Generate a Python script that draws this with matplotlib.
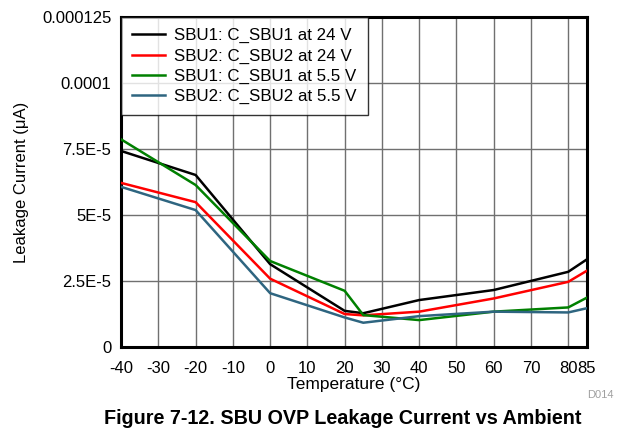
import matplotlib
matplotlib.use("Agg")
import matplotlib.pyplot as plt

temps = [-40, -20, 0, 20, 25, 40, 60, 80, 85]
sbu1_24v = [7.43e-5, 6.52e-5, 3.14e-5, 1.37e-5, 1.28e-5, 1.78e-5, 2.16e-5, 2.85e-5, 3.32e-5]
sbu2_24v = [6.22e-5, 5.49e-5, 2.59e-5, 1.25e-5, 1.20e-5, 1.34e-5, 1.84e-5, 2.47e-5, 2.89e-5]
sbu1_55v = [7.87e-5, 6.14e-5, 3.26e-5, 2.13e-5, 1.21e-5, 1.02e-5, 1.34e-5, 1.50e-5, 1.87e-5]
sbu2_55v = [6.07e-5, 5.19e-5, 2.04e-5, 1.12e-5, 0.92e-5, 1.17e-5, 1.34e-5, 1.31e-5, 1.47e-5]

series = [
    ("SBU1: C_SBU1 at 24 V", sbu1_24v, "black"),
    ("SBU2: C_SBU2 at 24 V", sbu2_24v, "#ff0000"),
    ("SBU1: C_SBU1 at 5.5 V", sbu1_55v, "#008000"),
    ("SBU2: C_SBU2 at 5.5 V", sbu2_55v, "#2e6580"),
]

x_ticks = [-40, -30, -20, -10, 0, 10, 20, 30, 40, 50, 60, 70, 80, 85]
y_ticks = [0, 2.5e-5, 5e-5, 7.5e-5, 1e-4, 1.25e-4]
y_tick_labels = ["0", "2.5E-5", "5E-5", "7.5E-5", "0.0001", "0.000125"]

plt.rcParams["font.family"] = ["Liberation Sans", "DejaVu Sans"]

fig = plt.figure(figsize=(6.21, 4.30), dpi=100)
ax = fig.add_axes([0.195, 0.193, 0.750, 0.767])

for label, values, color in series:
    ax.plot(temps, values, color=color, lw=1.8, label=label, zorder=3)

ax.set_xlim(-40, 85)
ax.set_ylim(0, 1.25e-4)
ax.set_xticks(x_ticks)
ax.set_xticklabels([str(t) for t in x_ticks], fontsize=12)
ax.set_yticks(y_ticks)
ax.set_yticklabels(y_tick_labels, fontsize=12)
ax.tick_params(axis="x", length=0, pad=10)
ax.tick_params(axis="y", length=0, pad=7)
ax.grid(True, color="#707070", lw=1.0)
for spine in ax.spines.values():
    spine.set_linewidth(2.2)
    spine.set_color("black")

ax.set_xlabel("Temperature (°C)", fontsize=12.5, labelpad=1)
ax.set_ylabel("Leakage Current (μA)", fontsize=12, labelpad=9)

leg = ax.legend(loc="upper left", fontsize=12.2, frameon=True, fancybox=False,
                borderaxespad=0.0, handlelength=1.95, handletextpad=0.55,
                labelspacing=0.3, borderpad=0.65, edgecolor="black")
leg.get_frame().set_linewidth(1.0)

fig.text(0.988, 0.081, "D014", fontsize=8, color="#a0a0a0", ha="right", va="center")
fig.text(0.552, 0.027, "Figure 7-12. SBU OVP Leakage Current vs Ambient",
         fontsize=14.2, fontweight="bold", ha="center", va="center")

fig.savefig("out.png", dpi=100)
